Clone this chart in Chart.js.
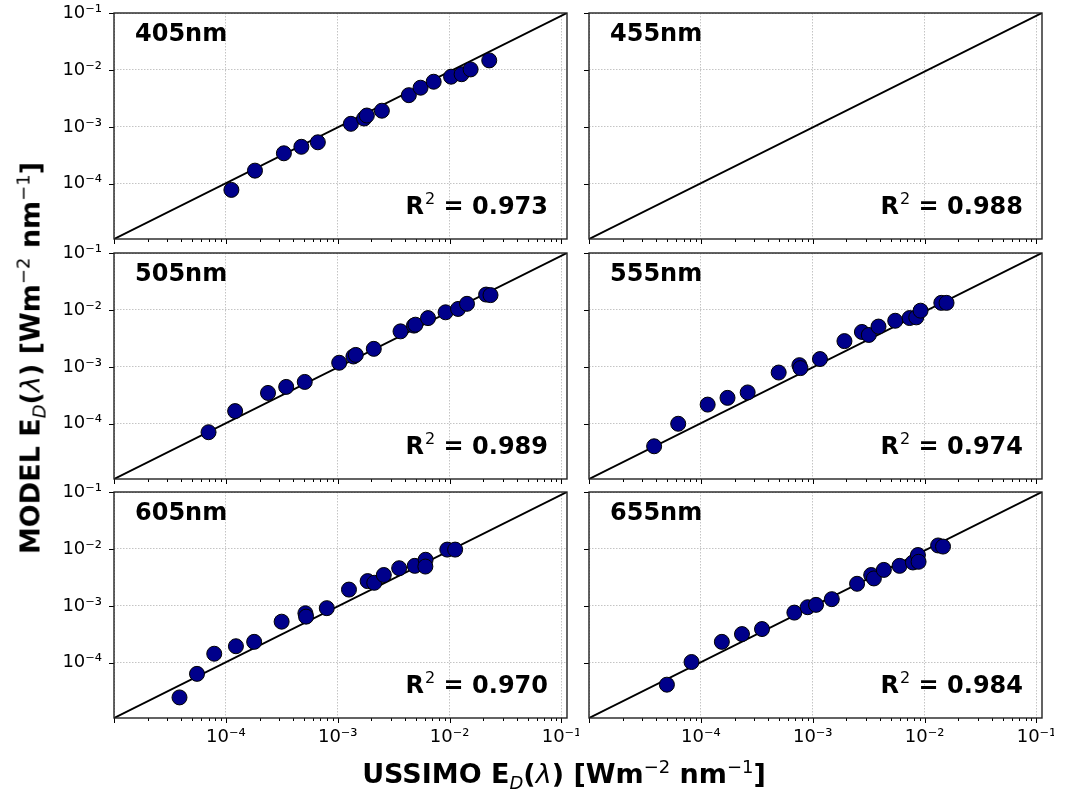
<!DOCTYPE html>
<html>
<head>
<meta charset="utf-8">
<script src="https://cdn.jsdelivr.net/npm/chart.js@4.4.1/dist/chart.umd.min.js"></script>
<style>
  body { margin: 0; background: #fff; }
  #fig { position: relative; width: 1068px; height: 791px; overflow: hidden; font-family: "DejaVu Sans", sans-serif; }
  #fig canvas { position: absolute; }
  .axis-title { position: absolute; font-weight: bold; font-size: 27px; white-space: nowrap; color: #000; line-height: 1; }
  .axis-title sup, .axis-title sub { font-weight: normal; font-size: 18px; line-height: 0; }
  .axis-title i { font-weight: normal; }
  #xtitle { left: 564px; top: 760px; transform: translateX(-50%); }
  #ytitle { left: 30px; top: 358px; transform: translate(-50%, -50%) rotate(-90deg); }
</style>
</head>
<body>
<div id="fig">
  <canvas id="c0"></canvas><canvas id="c1"></canvas>
  <canvas id="c2"></canvas><canvas id="c3"></canvas>
  <canvas id="c4"></canvas><canvas id="c5"></canvas>
  <div class="axis-title" id="xtitle">USSIMO E<sub><i>D</i></sub>(<i>λ</i>) [Wm<sup>−2</sup> nm<sup>−1</sup>]</div>
  <div class="axis-title" id="ytitle">MODEL E<sub><i>D</i></sub>(<i>λ</i>) [Wm<sup>−2</sup> nm<sup>−1</sup>]</div>
</div>
<script>
/* panel labels and fit scores */
const BANDS = ['405nm', '455nm', '505nm', '555nm', '605nm', '655nm'];
const R2 = [0.973, 0.988, 0.989, 0.974, 0.970, 0.984];

/* USSIMO (x) vs model (y) irradiance per band */
const USSIMO_405 = [1.12e-4, 1.82e-4, 3.3e-4, 4.73e-4, 6.64e-4, 1.31e-3, 1.72e-3, 1.82e-3, 2.48e-3, 4.32e-3, 5.5e-3, 7.2e-3, 1.03e-2, 1.28e-2, 1.54e-2, 2.26e-2];
const MODEL_405  = [7.8e-5, 1.7e-4, 3.43e-4, 4.46e-4, 5.35e-4, 1.13e-3, 1.4e-3, 1.58e-3, 1.92e-3, 3.6e-3, 4.87e-3, 6.2e-3, 7.6e-3, 8.4e-3, 1.02e-2, 1.47e-2];

const USSIMO_455 = [];
const MODEL_455  = [];

const USSIMO_505 = [7.0e-5, 1.21e-4, 2.38e-4, 3.46e-4, 5.07e-4, 1.03e-3, 1.38e-3, 1.45e-3, 2.1e-3, 3.64e-3, 4.8e-3, 4.95e-3, 6.41e-3, 9.2e-3, 1.19e-2, 1.43e-2, 2.12e-2, 2.32e-2];
const MODEL_505  = [7.1e-5, 1.67e-4, 3.48e-4, 4.44e-4, 5.43e-4, 1.18e-3, 1.52e-3, 1.62e-3, 2.07e-3, 4.2e-3, 5.3e-3, 5.5e-3, 7.18e-3, 9.08e-3, 1.04e-2, 1.28e-2, 1.86e-2, 1.82e-2];

const USSIMO_555 = [3.82e-5, 6.27e-5, 1.15e-4, 1.73e-4, 2.62e-4, 4.96e-4, 7.6e-4, 7.76e-4, 1.16e-3, 1.92e-3, 2.75e-3, 3.17e-3, 3.87e-3, 5.46e-3, 7.34e-3, 8.42e-3, 9.2e-3, 1.41e-2, 1.57e-2];
const MODEL_555  = [4.02e-5, 1.0e-4, 2.17e-4, 2.85e-4, 3.55e-4, 7.94e-4, 1.07e-3, 9.5e-4, 1.37e-3, 2.83e-3, 4.1e-3, 3.63e-3, 5.1e-3, 6.45e-3, 7.2e-3, 7.4e-3, 9.7e-3, 1.33e-2, 1.33e-2];

const USSIMO_605 = [3.85e-5, 5.52e-5, 7.87e-5, 1.23e-4, 1.79e-4, 3.15e-4, 5.14e-4, 5.21e-4, 7.98e-4, 1.26e-3, 1.85e-3, 2.12e-3, 2.58e-3, 3.54e-3, 4.88e-3, 6.1e-3, 6.07e-3, 9.53e-3, 1.12e-2];
const MODEL_605  = [2.46e-5, 6.38e-5, 1.44e-4, 1.95e-4, 2.33e-4, 5.27e-4, 7.41e-4, 6.46e-4, 9.1e-4, 1.93e-3, 2.72e-3, 2.54e-3, 3.48e-3, 4.58e-3, 5.04e-3, 6.45e-3, 4.9e-3, 9.73e-3, 9.73e-3];

const USSIMO_655 = [4.97e-5, 8.25e-5, 1.54e-4, 2.33e-4, 3.52e-4, 6.85e-4, 9.0e-4, 1.07e-3, 1.48e-3, 2.49e-3, 3.33e-3, 3.52e-3, 4.32e-3, 5.97e-3, 7.86e-3, 8.71e-3, 8.83e-3, 1.32e-2, 1.46e-2];
const MODEL_655  = [4.12e-5, 1.03e-4, 2.33e-4, 3.19e-4, 3.91e-4, 7.6e-4, 9.46e-4, 1.04e-3, 1.31e-3, 2.44e-3, 3.48e-3, 3.03e-3, 4.28e-3, 5.04e-3, 5.78e-3, 7.81e-3, 5.94e-3, 1.15e-2, 1.1e-2];

const XS = [USSIMO_405, USSIMO_455, USSIMO_505, USSIMO_555, USSIMO_605, USSIMO_655];
const YS = [MODEL_405, MODEL_455, MODEL_505, MODEL_555, MODEL_605, MODEL_655];

/* axis limits, shared by every panel */
const X_MIN = 1e-5, X_MAX = 0.112;
const Y_MIN = 1.07e-5, Y_MAX = 0.1;
const LABELLED_POWERS = [1e-4, 1e-3, 1e-2, 1e-1];

/* panel geometry */
const COL_LEFT = [114, 589];
const ROW_TOP = [13, 252.5, 492];
const PLOT_W = 453, PLOT_H = 226;
const PAD_L = 75, PAD_T = 13, PAD_R = 12, PAD_B = 45;

const FONT = '"DejaVu Sans", sans-serif';
const GRID_COLOR = '#c4c4c4';

Chart.defaults.font.family = FONT;
Chart.defaults.color = '#000';

// returns 1..9 if v is a whole multiple of a power of ten, else null
function mantissa(v) {
  const e = Math.floor(Math.log10(v) + 1e-9);
  const m = v / Math.pow(10, e);
  const r = Math.round(m);
  return (Math.abs(m - r) < 1e-6 && r >= 1 && r <= 9) ? r : null;
}

const SUP = { '-': '⁻', '0': '⁰', '1': '¹', '2': '²', '3': '³', '4': '⁴', '5': '⁵', '6': '⁶', '7': '⁷', '8': '⁸', '9': '⁹' };
function powLabel(v) {
  if (mantissa(v) !== 1) return '';
  if (!LABELLED_POWERS.some(p => Math.abs(p - v) / p < 1e-6)) return '';
  const e = String(Math.round(Math.log10(v)));
  return '10' + e.split('').map(c => SUP[c]).join('');
}

/* frame, tick marks, band name and R² text */
const panelDecor = {
  id: 'panelDecor',
  afterDraw(chart, args, opts) {
    const { ctx, chartArea: a, scales } = chart;
    ctx.save();
    ctx.strokeStyle = '#000';
    ctx.lineWidth = 1;
    scales.x.ticks.forEach(t => {
      const m = mantissa(t.value);
      if (m === null) return;
      const px = Math.round(scales.x.getPixelForValue(t.value)) + 0.5;
      ctx.beginPath();
      ctx.moveTo(px, a.bottom);
      ctx.lineTo(px, a.bottom + (m === 1 ? 5 : 3));
      ctx.stroke();
    });
    scales.y.ticks.forEach(t => {
      const py = Math.round(scales.y.getPixelForValue(t.value)) + 0.5;
      ctx.beginPath();
      ctx.moveTo(a.left, py);
      ctx.lineTo(a.left - 5, py);
      ctx.stroke();
    });

    ctx.lineWidth = 1.4;
    ctx.strokeStyle = '#222';
    ctx.strokeRect(a.left, a.top, a.right - a.left, a.bottom - a.top);

    ctx.fillStyle = '#000';
    ctx.textBaseline = 'alphabetic';
    ctx.textAlign = 'left';
    const big = 'bold 24px ' + FONT, small = '16px ' + FONT;
    ctx.font = big;
    ctx.fillText(opts.title, a.left + 21, a.top + 28);

    const rest = ' = ' + opts.r2.toFixed(3);
    const wR = ctx.measureText('R').width, wRest = ctx.measureText(rest).width;
    ctx.font = small;
    const w2 = ctx.measureText('2').width + 1;
    let x = a.right - 19 - (wR + w2 + wRest);
    const base = a.bottom - 25;
    ctx.font = big;
    ctx.fillText('R', x, base);
    x += wR;
    ctx.font = small;
    ctx.fillText('2', x + 1, base - 10);
    x += w2;
    ctx.font = big;
    ctx.fillText(rest, x, base);
    ctx.restore();
  }
};

function createPanel(i) {
  const col = i % 2, row = Math.floor(i / 2);
  const canvas = document.getElementById('c' + i);
  canvas.width = PLOT_W + PAD_L + PAD_R;
  canvas.height = PLOT_H + PAD_T + PAD_B;
  canvas.style.left = (COL_LEFT[col] - PAD_L) + 'px';
  canvas.style.top = (ROW_TOP[row] - PAD_T) + 'px';

  const showY = col === 0;
  const showX = row === 2;
  const points = XS[i].map((x, k) => ({ x, y: YS[i][k] }));

  return new Chart(canvas.getContext('2d'), {
    type: 'scatter',
    data: {
      datasets: [{
        data: points,
        backgroundColor: '#00008b',
        borderColor: '#000',
        borderWidth: 1,
        pointRadius: 7.5,
        order: 0
      }, {
        type: 'line',
        data: [{ x: X_MIN, y: Y_MIN }, { x: X_MAX, y: Y_MAX }],
        borderColor: '#000',
        borderWidth: 2,
        pointRadius: 0,
        fill: false,
        order: 1
      }]
    },
    options: {
      responsive: false,
      animation: false,
      events: [],
      layout: { padding: { top: PAD_T, right: PAD_R, left: 0, bottom: 0 } },
      plugins: {
        legend: { display: false },
        tooltip: { enabled: false },
        panelDecor: { title: BANDS[i], r2: R2[i] }
      },
      scales: {
        x: {
          type: 'logarithmic',
          min: X_MIN,
          max: X_MAX,
          // fixed box so every panel's plot area lines up
          afterFit: s => { s.height = PAD_B; s.paddingLeft = 0; s.paddingRight = 0; },
          grid: {
            drawTicks: false,
            lineWidth: 1,
            color: c => (c.tick && mantissa(c.tick.value) === 1) ? GRID_COLOR : 'rgba(0,0,0,0)'
          },
          border: { display: false, dash: [1.5, 1.5] },
          ticks: {
            display: showX,
            autoSkip: false,
            maxRotation: 0,
            padding: 9,
            font: { size: 18 },
            color: '#000',
            callback: v => powLabel(v)
          }
        },
        y: {
          type: 'logarithmic',
          min: Y_MIN,
          max: Y_MAX,
          afterBuildTicks: s => {
            s.ticks = s.ticks.filter(t => mantissa(t.value) === 1 && t.value > Y_MIN * 1.01);
          },
          afterFit: s => { s.width = PAD_L; s.paddingTop = 0; s.paddingBottom = 0; },
          grid: { drawTicks: false, lineWidth: 1, color: GRID_COLOR },
          border: { display: false, dash: [1.5, 1.5] },
          ticks: {
            display: showY,
            padding: 12,
            font: { size: 18 },
            color: '#000',
            callback: v => powLabel(v)
          }
        }
      }
    },
    plugins: [panelDecor]
  });
}

for (let i = 0; i < 6; i++) createPanel(i);
</script>
</body>
</html>
